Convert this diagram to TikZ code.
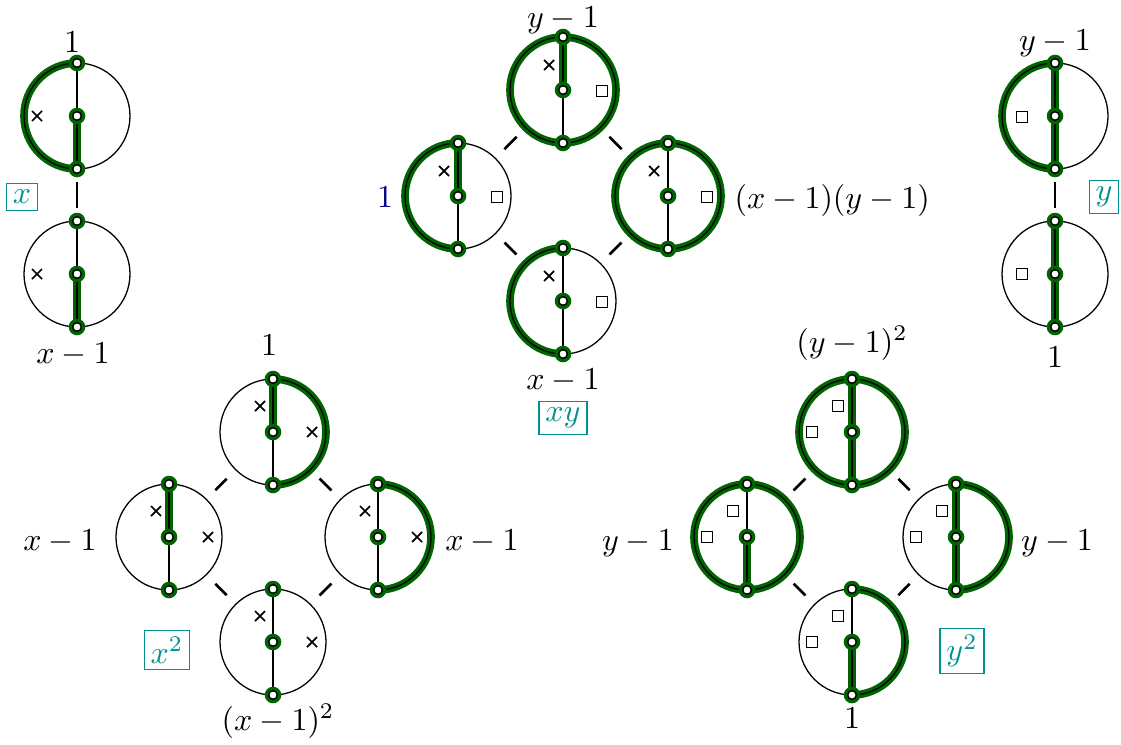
\documentclass[tikz,border=0pt]{standalone}
\definecolor{hlgreen}{RGB}{0,100,0}
\definecolor{boxteal}{RGB}{0,145,145}
\definecolor{lblblue}{RGB}{0,0,140}
\newcommand\hlpathL{\draw[hl] (0,-53) arc[start angle=270,end angle=90,radius=53];}
\newcommand\hlpathR{\draw[hl] (0,-53) arc[start angle=-90,end angle=90,radius=53];}
\newcommand\hlpathT{\draw[hl] (0,-53) -- (0,0);}
\newcommand\hlpathB{\draw[hl] (0,0) -- (0,53);}
\newcommand\hlpathN{}
\tikzset{
  hl/.style={draw=hlgreen,line width=2.4pt,line cap=round},
  thin line/.style={draw=black,line width=0.4pt},
  halo/.style={fill=hlgreen},
  vtx/.style={circle,fill=white,draw=black,line width=0.45pt,minimum size=2.7pt,inner sep=0pt},
  conn/.style={draw=black,line width=0.8pt,shorten >=20.6pt,shorten <=20.6pt},
  lbl/.style={inner sep=0pt},
  tbox/.style={draw=boxteal,text=boxteal,line width=0.4pt,inner sep=2pt},
  pics/theta/.style={code={
    \coordinate (-c) at (0,0);
    \foreach \s in {#1}{\csname hlpath\s\endcsname}
    \draw[thin line] (0,0) circle[radius=53];
    \draw[thin line] (0,-53) -- (0,53);
    \foreach \yy in {-53,0,53}{\fill[halo] (0,\yy) circle[radius=8.3];}
    \node[vtx] (-t) at (0,-53) {};
    \node[vtx] (-m) at (0,0) {};
    \node[vtx] (-b) at (0,53) {};
  }},
  pics/xm/.style={code={
    \draw[line width=0.55pt] (-5,-5) -- (5,5) (-5,5) -- (5,-5);
  }},
  pics/sq/.style={code={
    \draw[line width=0.6pt] (-5.5,-5.5) rectangle (5.5,5.5);
  }}
}
\begin{document}
\begin{tikzpicture}[x=0.3125pt,y=-0.3125pt]
\useasboundingbox (0,0) rectangle (1121,744);

% ---- x (top left)
\pic (A1) at (77,116) {theta={L,B}};
\pic (A2) at (77,274) {theta=B};
\pic at (37,116) {xm};
\pic at (37,274) {xm};
\draw[conn] (A1-c) -- (A2-c);
\node[lbl] (la1) at (72,42) {$1$};
\node[lbl] (la2) at (73,355) {$x-1$};
\node[tbox] (bx) at (22,197) {$x$};

% ---- y (top right)
\pic (B1) at (1055,116) {theta={L,T,B}};
\pic (B2) at (1055,274) {theta={T,B}};
\pic at (1022,117) {sq};
\pic at (1022,274) {sq};
\draw[conn] (B1-c) -- (B2-c);
\node[lbl] (lb1) at (1055,43) {$y-1$};
\node[lbl] (lb2) at (1055,357) {$1$};
\node[tbox] (by) at (1104,197) {$y$};

% ---- xy (centre)
\pic (C1) at (563,90) {theta={L,R,T}};
\pic (C2) at (458,196) {theta={L,T}};
\pic (C3) at (668,196) {theta={L,R}};
\pic (C4) at (563,301) {theta=L};
\foreach \cx/\cy in {563/90,458/196,668/196,563/301}{
  \pic at (\cx-14,\cy-25) {xm};
  \pic at (\cx+39,\cy+1) {sq};
}
\draw[conn] (C1-c) -- (C2-c);
\draw[conn] (C1-c) -- (C3-c);
\draw[conn] (C2-c) -- (C4-c);
\draw[conn] (C3-c) -- (C4-c);
\node[lbl] (lc1) at (563,20) {$y-1$};
\node[lbl,text=lblblue] (lc2) at (385,197) {$1$};
\node[lbl,anchor=west] (lc3) at (734,200) {$(x-1)(y-1)$};
\node[lbl] (lc4) at (563,381) {$x-1$};
\node[tbox] (bxy) at (563,418) {$xy$};

% ---- x^2 (bottom left)
\pic (D1) at (273,432) {theta={R,T}};
\pic (D2) at (169,537) {theta=T};
\pic (D3) at (378,537) {theta=R};
\pic (D4) at (273,642) {theta=N};
\foreach \cx/\cy in {273/432,169/537,378/537,273/642}{
  \pic at (\cx-13,\cy-26) {xm};
  \pic at (\cx+39,\cy) {xm};
}
\draw[conn] (D1-c) -- (D2-c);
\draw[conn] (D1-c) -- (D3-c);
\draw[conn] (D2-c) -- (D4-c);
\draw[conn] (D3-c) -- (D4-c);
\node[lbl] (ld1) at (269,345) {$1$};
\node[lbl] (ld2) at (60,542) {$x-1$};
\node[lbl] (ld3) at (482,542) {$x-1$};
\node[lbl] (ld4) at (278,721) {$(x-1)^2$};
\node[tbox] (bx2) at (167,650) {$x^2$};

% ---- y^2 (bottom right)
\pic (E1) at (852,432) {theta={L,R,T,B}};
\pic (E2) at (747,537) {theta={L,R,B}};
\pic (E3) at (956,537) {theta={R,T,B}};
\pic (E4) at (852,642) {theta={R,B}};
\foreach \cx/\cy in {852/432,747/537,956/537,852/642}{
  \pic at (\cx-14,\cy-26) {sq};
  \pic at (\cx-40,\cy) {sq};
}
\draw[conn] (E1-c) -- (E2-c);
\draw[conn] (E1-c) -- (E3-c);
\draw[conn] (E2-c) -- (E4-c);
\draw[conn] (E3-c) -- (E4-c);
\node[lbl] (le1) at (852,343) {$(y-1)^2$};
\node[lbl] (le2) at (638,543) {$y-1$};
\node[lbl] (le3) at (1057,543) {$y-1$};
\node[lbl] (le4) at (852,718) {$1$};
\node[tbox] (by2) at (962,651) {$y^2$};
\end{tikzpicture}
\end{document}
